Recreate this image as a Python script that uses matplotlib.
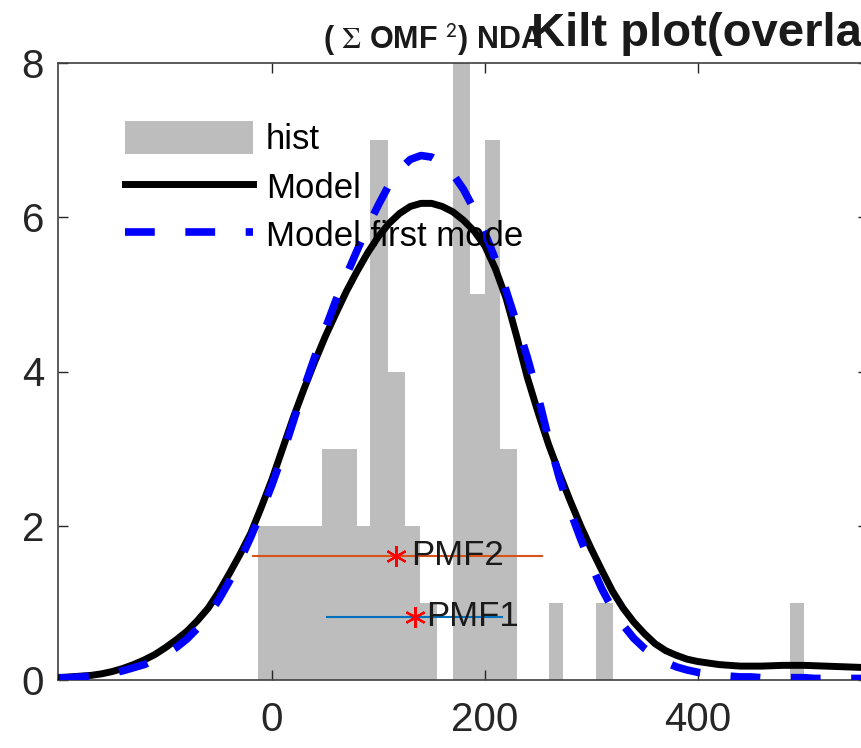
import matplotlib
matplotlib.use('Agg')
import matplotlib.pyplot as plt

plt.rcParams['font.family'] = ['Liberation Sans', 'DejaVu Sans']
plt.rcParams['mathtext.fontset'] = 'stix'

# histogram bars (left edge, right edge, count)
bin_left = [-13, 47, 80, 92, 109, 125, 139, 170, 186, 200, 214, 260, 304, 487]
bin_right = [47, 80, 92, 109, 125, 139, 155, 186, 200, 214, 230, 273, 320, 500]
counts = [2, 3, 2, 7, 4, 2, 1, 8, 5, 7, 3, 1, 1, 1]

# model curves, read every 10 units
x_model = list(range(-200, 570, 10))
model = [0.03, 0.04, 0.05, 0.06, 0.08, 0.11, 0.15, 0.20, 0.26, 0.33,
         0.42, 0.52, 0.63, 0.77, 0.93, 1.14, 1.38, 1.63, 1.90, 2.24,
         2.60, 3.00, 3.40, 3.77, 4.12, 4.45, 4.75, 5.04, 5.30, 5.54,
         5.75, 5.92, 6.05, 6.14, 6.18, 6.18, 6.14, 6.07, 5.96, 5.82,
         5.63, 5.33, 4.95, 4.45, 3.92, 3.47, 3.05, 2.68, 2.33, 2.00,
         1.70, 1.42, 1.15, 0.93, 0.75, 0.60, 0.47, 0.38, 0.32, 0.27,
         0.24, 0.22, 0.20, 0.19, 0.18, 0.18, 0.18, 0.185, 0.19, 0.19,
         0.19, 0.185, 0.18, 0.175, 0.17, 0.165, 0.16]
model_first = [0.03, 0.03, 0.04, 0.05, 0.07, 0.09, 0.12, 0.16, 0.20, 0.26,
               0.33, 0.42, 0.53, 0.67, 0.84, 1.04, 1.28, 1.55, 1.85, 2.18,
               2.53, 2.92, 3.35, 3.78, 4.18, 4.55, 4.92, 5.25, 5.57, 5.88,
               6.16, 6.42, 6.62, 6.75, 6.80, 6.78, 6.70, 6.56, 6.36, 6.10,
               5.80, 5.45, 5.05, 4.62, 4.18, 3.68, 3.12, 2.62, 2.20, 1.83,
               1.49, 1.18, 0.92, 0.71, 0.54, 0.41, 0.31, 0.23, 0.17, 0.13,
               0.10, 0.08, 0.06, 0.05, 0.04, 0.04, 0.03, 0.03, 0.03, 0.03,
               0.03, 0.02, 0.02, 0.02, 0.02, 0.02, 0.02]

# PMF markers with their ranges
pmf_names = ['PMF1', 'PMF2']
pmf_center = [134, 117]
pmf_low = [52, -18]
pmf_high = [216, 254]
pmf_level = [0.82, 1.61]
pmf_text_x = [145, 131]
pmf_colors = ['#0072BD', '#D95319']

x_ticks = [0, 200, 400]
y_ticks = [0, 2, 4, 6, 8]

W, H = 862, 748
fig = plt.figure(figsize=(W / 100, H / 100), dpi=100)
ax = fig.add_axes([58 / W, 1 - 680 / H, 810 / W, 617 / H])

widths = [r - l for l, r in zip(bin_left, bin_right)]
bars = ax.bar(bin_left, counts, width=widths, align='edge', color='#bdbdbd',
              edgecolor='none', label='hist', zorder=1)
line_m, = ax.plot(x_model, model, color='black', lw=5, label='Model', zorder=3)
line_f, = ax.plot(x_model, model_first, color='#0000ff', lw=5.5, dashes=(3.9, 4.0),
                  label='Model first mode', zorder=4)

for name, c, lo, hi, lev, tx, col in zip(pmf_names, pmf_center, pmf_low, pmf_high,
                                         pmf_level, pmf_text_x, pmf_colors):
    ax.plot([lo, hi], [lev, lev], color=col, lw=1.5, zorder=2)
    ax.plot([c], [lev], marker=(6, 2, 0), color='red', ms=15, mew=1.6, ls='none', zorder=5)
    ax.text(tx, lev, name, fontsize=25, va='center', ha='left', color='#1a1a1a', zorder=6)

ax.set_xlim(-201, 560)
ax.set_ylim(0, 8)
ax.set_xticks(x_ticks)
ax.set_yticks(y_ticks)
ax.tick_params(direction='in', length=7, width=1, top=True, right=True,
               labelsize=29, colors='#262626')
ax.tick_params(axis='x', pad=15)
ax.tick_params(axis='y', pad=10)
for sp in ax.spines.values():
    sp.set_color('#404040')
    sp.set_linewidth(1.2)

ax.legend(handles=[bars, line_m, line_f], loc='upper left',
          bbox_to_anchor=(125 / W, 1 - 121 / H),
          bbox_transform=fig.transFigure, frameon=False, fontsize=25,
          handlelength=3.7, handleheight=1.1, handletextpad=0.36,
          labelspacing=0.37, borderpad=0, borderaxespad=0)

# title pieces (the second one runs off the right edge)
fig.text(323 / W, 1 - 49 / H, r'( $\Sigma$ OMF $^{\mathsf{2}}$) NDA', fontsize=22,
         fontweight='bold', ha='left', va='baseline', color='#1a1a1a')
fig.text(531 / W, 1 - 46 / H, 'Kilt plot(overlay)', fontsize=34,
         fontweight='bold', ha='left', va='baseline', color='#1a1a1a')

fig.savefig('out.png', dpi=100)
